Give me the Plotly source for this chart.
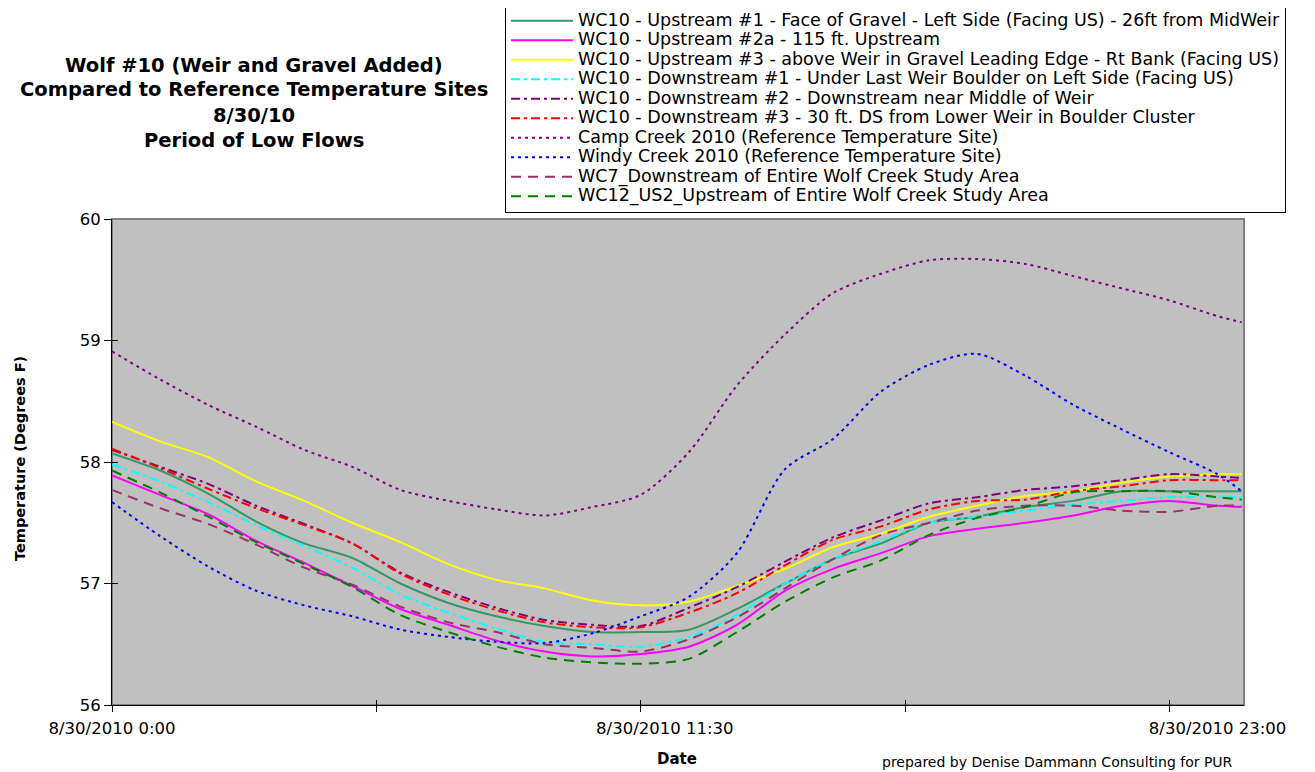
import plotly.graph_objects as go

# ---------------- data ----------------
times = ["2010-08-30 00:00", "2010-08-30 01:00", "2010-08-30 02:00", "2010-08-30 03:00",
         "2010-08-30 04:00", "2010-08-30 05:00", "2010-08-30 06:00", "2010-08-30 07:00",
         "2010-08-30 08:00", "2010-08-30 09:00", "2010-08-30 10:00", "2010-08-30 11:00",
         "2010-08-30 12:00", "2010-08-30 13:00", "2010-08-30 14:00", "2010-08-30 15:00",
         "2010-08-30 16:00", "2010-08-30 17:00", "2010-08-30 18:00", "2010-08-30 19:00",
         "2010-08-30 20:00", "2010-08-30 21:00", "2010-08-30 22:00", "2010-08-30 23:00",
         "2010-08-30 23:30"]

us1 = [58.07, 57.93, 57.74, 57.51, 57.33, 57.21, 57.00, 56.84, 56.73, 56.65, 56.60, 56.60,
       56.62, 56.79, 57.00, 57.20, 57.33, 57.50, 57.55, 57.63, 57.68, 57.76, 57.76, 57.76, 57.76]
us2a = [57.89, 57.73, 57.57, 57.35, 57.17, 56.98, 56.79, 56.66, 56.53, 56.44, 56.40, 56.42,
        56.48, 56.66, 56.94, 57.12, 57.25, 57.39, 57.45, 57.50, 57.56, 57.64, 57.68, 57.64, 57.63]
us3 = [58.33, 58.17, 58.04, 57.84, 57.68, 57.50, 57.34, 57.16, 57.03, 56.96, 56.86, 56.82,
       56.85, 56.98, 57.12, 57.30, 57.41, 57.55, 57.64, 57.72, 57.76, 57.83, 57.88, 57.90, 57.90]
ds1 = [57.98, 57.84, 57.67, 57.48, 57.31, 57.13, 56.91, 56.76, 56.63, 56.52, 56.50, 56.48,
       56.56, 56.74, 57.00, 57.20, 57.35, 57.50, 57.55, 57.60, 57.65, 57.68, 57.71, 57.71, 57.71]
ds2 = [58.10, 57.96, 57.82, 57.64, 57.49, 57.33, 57.09, 56.93, 56.80, 56.70, 56.66, 56.65,
       56.80, 56.97, 57.18, 57.38, 57.52, 57.66, 57.71, 57.77, 57.80, 57.85, 57.90, 57.88, 57.87]
ds3 = [58.11, 57.95, 57.78, 57.62, 57.48, 57.33, 57.08, 56.91, 56.78, 56.68, 56.64, 56.64,
       56.76, 56.92, 57.15, 57.36, 57.47, 57.61, 57.68, 57.69, 57.76, 57.80, 57.85, 57.85, 57.85]
camp = [58.91, 58.68, 58.47, 58.29, 58.10, 57.96, 57.77, 57.68, 57.61, 57.56, 57.63, 57.73,
        58.08, 58.63, 59.05, 59.39, 59.55, 59.66, 59.67, 59.63, 59.53, 59.43, 59.33, 59.20, 59.15]
windy = [57.67, 57.39, 57.14, 56.94, 56.82, 56.73, 56.62, 56.56, 56.52, 56.51, 56.59, 56.73,
         56.89, 57.25, 57.94, 58.19, 58.58, 58.80, 58.89, 58.71, 58.47, 58.27, 58.08, 57.90, 57.76]
wc7 = [57.77, 57.62, 57.49, 57.32, 57.13, 56.99, 56.81, 56.68, 56.60, 56.50, 56.47, 56.44,
       56.54, 56.72, 56.96, 57.20, 57.40, 57.50, 57.60, 57.64, 57.64, 57.60, 57.59, 57.64, 57.64]
wc12 = [57.93, 57.75, 57.55, 57.34, 57.16, 56.97, 56.74, 56.60, 56.48, 56.39, 56.35, 56.34,
        56.38, 56.60, 56.85, 57.05, 57.19, 57.40, 57.54, 57.63, 57.75, 57.76, 57.76, 57.71, 57.69]

names = [
    "WC10 - Upstream #1 - Face of Gravel - Left Side (Facing US) - 26ft from MidWeir",
    "WC10 - Upstream #2a - 115 ft. Upstream",
    "WC10 - Upstream #3 - above Weir in Gravel Leading Edge - Rt Bank (Facing US)",
    "WC10 - Downstream #1 - Under Last Weir Boulder on Left Side (Facing US)",
    "WC10 - Downstream #2 - Downstream near Middle of Weir",
    "WC10 - Downstream #3 - 30 ft. DS from Lower Weir in Boulder Cluster",
    "Camp Creek 2010 (Reference Temperature Site)",
    "Windy Creek 2010 (Reference Temperature Site)",
    "WC7_Downstream of Entire Wolf Creek Study Area",
    "WC12_US2_Upstream of Entire Wolf Creek Study Area",
]
series = [us1, us2a, us3, ds1, ds2, ds3, camp, windy, wc7, wc12]

y_ticks = [56, 57, 58, 59, 60]
x_tick_marks = ["2010-08-30 00:00", "2010-08-30 05:30", "2010-08-30 11:00",
                "2010-08-30 16:30", "2010-08-30 22:00"]
x_label_vals = ["2010-08-30 00:00", "2010-08-30 11:30", "2010-08-30 23:00"]
x_label_text = ["8/30/2010 0:00", "8/30/2010 11:30", "8/30/2010 23:00"]
x_range = ["2010-08-30 00:00", "2010-08-30 23:33"]

# ---------------- styles ----------------
DASHDOT = "9px,4px,3px,4px"
DASH = "10px,7px"
DOT = "3px,4px"
styles = [
    ("#339966", "solid"),
    ("#FF00FF", "solid"),
    ("#FFFF00", "solid"),
    ("#00FFFF", DASHDOT),
    ("#800080", DASHDOT),
    ("#FF0000", DASHDOT),
    ("#800080", DOT),
    ("#0000FF", DOT),
    ("#993366", DASH),
    ("#008000", DASH),
]

FONT = "DejaVu Sans, Verdana, sans-serif"
# page offset of the plotly div (default body margin)
OFF = 8
# plot area in screen pixels
L, R, T, B = 112, 1244, 219, 705
W, H = 1315 - OFF, 772 - OFF


def px_x(px):
    return (px - L) / (R - L)


def px_y(py):
    return (B - py) / (B - T)


fig = go.Figure()
for name, vals, (col, dash) in zip(names, series, styles):
    fig.add_trace(go.Scatter(
        x=times, y=vals, mode="lines",
        name='<span style="font-size:17.5px">' + name + '</span>',
        line=dict(color=col, width=2, dash=dash, shape="spline", smoothing=0.8),
        hoverinfo="skip",
    ))

# helper traces so the overlay axes are drawn
fig.add_trace(go.Scatter(x=[None], y=[None], xaxis="x2", yaxis="y", showlegend=False, hoverinfo="skip"))
fig.add_trace(go.Scatter(x=[None], y=[None], xaxis="x3", yaxis="y", showlegend=False, hoverinfo="skip"))
fig.add_trace(go.Scatter(x=[None], y=[None], xaxis="x", yaxis="y2", showlegend=False, hoverinfo="skip"))

fig.update_layout(
    width=W, height=H,
    margin=dict(l=L - OFF, r=W - (R - OFF), t=T - OFF, b=H - (B - OFF), pad=0, autoexpand=False),
    paper_bgcolor="white", plot_bgcolor="#C0C0C0",
    font=dict(family=FONT, color="black"),
    showlegend=True,
    legend=dict(x=px_x(505), y=px_y(5), xanchor="left", yanchor="top",
                bgcolor="white", bordercolor="black", borderwidth=1,
                font=dict(size=12.7, family=FONT), itemwidth=62, tracegroupgap=0),
    xaxis=dict(type="date", range=x_range, tickmode="array", tickvals=x_tick_marks,
               showticklabels=False, ticks="outside", ticklen=6, tickwidth=1, tickcolor="black",
               showline=True, linecolor="black", linewidth=1, showgrid=False, zeroline=False),
    xaxis2=dict(type="date", overlaying="x", anchor="y", side="bottom", range=x_range,
                tickmode="array", tickvals=x_label_vals, ticktext=x_label_text,
                ticks="", showline=False, showgrid=False, zeroline=False,
                tickfont=dict(size=16.5, family=FONT), ticklabelstandoff=11),
    xaxis3=dict(type="date", overlaying="x", anchor="y", side="bottom", range=x_range,
                tickmode="array", tickvals=x_tick_marks, showticklabels=False,
                ticks="inside", ticklen=5, tickwidth=1, tickcolor="black",
                showline=False, showgrid=False, zeroline=False),
    yaxis=dict(range=[56, 60], tickmode="array", tickvals=y_ticks,
               ticks="outside", ticklen=7, tickwidth=1, tickcolor="black",
               showline=True, linecolor="black", linewidth=1, showgrid=False, zeroline=False,
               tickfont=dict(size=16.5, family=FONT)),
    yaxis2=dict(overlaying="y", anchor="x", side="left", range=[56, 60], tickmode="array",
                tickvals=y_ticks, showticklabels=False, ticks="inside", ticklen=6, tickwidth=1,
                tickcolor="black", showline=False, showgrid=False, zeroline=False),
)

# plot-area frame (grey top/right)
fig.add_shape(type="rect", xref="x domain", yref="y domain", x0=0, x1=1, y0=0, y1=1,
              line=dict(color="#808080", width=2), layer="below")

title_lines = ["Wolf #10 (Weir and Gravel Added)", "Compared to Reference Temperature Sites",
               "8/30/10", "Period of Low Flows"]
title_y = [66, 90, 115.5, 140]
for txt, ty in zip(title_lines, title_y):
    fig.add_annotation(text="<b>" + txt + "</b>", xref="paper", yref="paper",
                       x=px_x(254), y=px_y(ty), xanchor="center", yanchor="middle",
                       showarrow=False, font=dict(size=19.5, family=FONT))

fig.add_annotation(text="<b>Temperature (Degrees F)</b>", xref="paper", yref="paper",
                   x=px_x(20), y=px_y(459), xanchor="center", yanchor="middle", textangle=-90,
                   showarrow=False, font=dict(size=14.5, family=FONT))
fig.add_annotation(text="<b>Date</b>", xref="paper", yref="paper",
                   x=px_x(677), y=px_y(759), xanchor="center", yanchor="middle",
                   showarrow=False, font=dict(size=15, family=FONT))
fig.add_annotation(text="prepared by Denise Dammann Consulting for PUR", xref="paper", yref="paper",
                   x=px_x(1057), y=px_y(762), xanchor="center", yanchor="middle",
                   showarrow=False, font=dict(size=14, family=FONT))

fig.write_html("out.html")
